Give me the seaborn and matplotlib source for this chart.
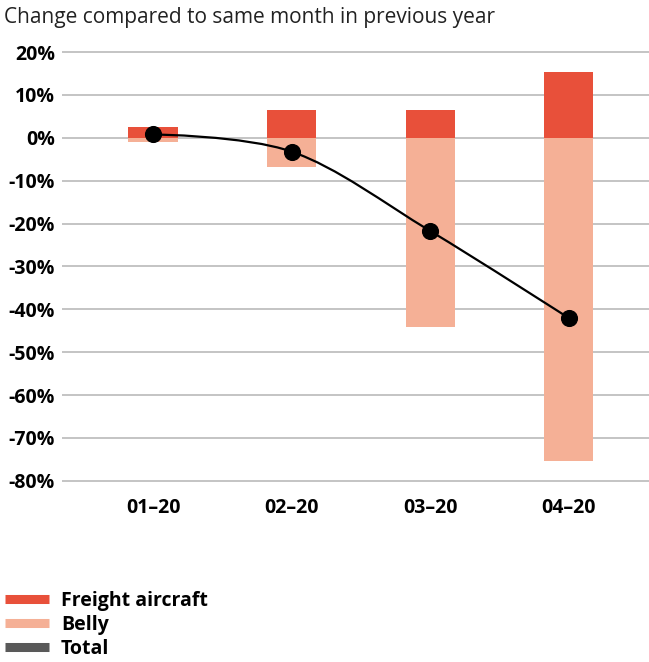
import numpy as np
import pandas as pd
import matplotlib
matplotlib.use("Agg")
import matplotlib.pyplot as plt
from matplotlib.path import Path
from matplotlib.patches import PathPatch
from matplotlib.lines import Line2D
import seaborn as sns

# --- data ---
months = ["01\u201320", "02\u201320", "03\u201320", "04\u201320"]
freight = [2.5, 6.5, 6.5, 15.3]
belly = [-1.0, -6.7, -44.0, -75.4]
total = [0.8, -3.2, -21.7, -42.0]
yticks = [20, 10, 0, -10, -20, -30, -40, -50, -60, -70, -80]

FREIGHT_C = "#E8503A"
BELLY_C = "#F5B096"
GRID_C = "#BFBFBF"

sns.set_theme(style="white")
plt.rcParams["font.family"] = ["Open Sans", "DejaVu Sans"]
plt.rcParams["text.color"] = "black"
plt.rcParams["xtick.color"] = "black"
plt.rcParams["ytick.color"] = "black"

df = pd.DataFrame({"month": months, "freight": freight, "belly": belly, "total": total})

fig = plt.figure(figsize=(6.49, 6.62), dpi=100)
ax = fig.add_axes([0.0955, 0.2704, 0.9045, 0.6541])

for y in yticks:
    ax.axhline(y, color=GRID_C, lw=1.3, zorder=0)

sns.barplot(data=df, x="month", y="freight", color=FREIGHT_C, width=0.355,
            saturation=1, linewidth=0, ax=ax, zorder=2)
sns.barplot(data=df, x="month", y="belly", color=BELLY_C, width=0.355,
            saturation=1, linewidth=0, ax=ax, zorder=2)

# smoothed line (bezier through the points, like the spreadsheet "smoothed line")
xs = np.arange(len(total), dtype=float)
pts = np.column_stack([xs, total])
verts = [tuple(pts[0])]
codes = [Path.MOVETO]
n = len(pts)
for i in range(n - 1):
    p0 = pts[i - 1] if i > 0 else pts[i]
    p1 = pts[i]
    p2 = pts[i + 1]
    p3 = pts[i + 2] if i + 2 < n else pts[i + 1]
    c1 = p1 + (p2 - p0) / 6.0 if i > 0 else p1
    c2 = p2 - (p3 - p1) / 6.0 if i + 2 < n else p2
    verts += [tuple(c1), tuple(c2), tuple(p2)]
    codes += [Path.CURVE4] * 3
ax.add_patch(PathPatch(Path(verts, codes), fill=False, edgecolor="black", lw=1.6, zorder=3))
sns.scatterplot(x=xs, y=total, color="black", s=130, edgecolor="black", zorder=4, ax=ax)

ax.set_xlim(-0.657, 3.58)
ax.set_ylim(-80.5, 20.5)
ax.set_yticks(yticks)
ax.set_yticklabels([f"{v}%" for v in yticks], fontsize=14, fontweight="bold")
ax.set_xticks(range(len(months)))
ax.set_xticklabels(months, fontsize=14, fontweight="bold")
ax.tick_params(axis="y", length=0, pad=5)
ax.tick_params(axis="x", length=0, pad=11)
ax.set_xlabel("")
ax.set_ylabel("")
for s in ax.spines.values():
    s.set_visible(False)

fig.text(0.006, 0.973, "Change compared to same month in previous year",
         fontsize=15, fontweight="normal", va="center", ha="left", color="#222222")

handles = [
    Line2D([], [], color=FREIGHT_C, lw=6.5, solid_capstyle="butt"),
    Line2D([], [], color=BELLY_C, lw=6.5, solid_capstyle="butt"),
    Line2D([], [], color="#595959", lw=6.5, solid_capstyle="butt"),
]
fig.legend(handles, ["Freight aircraft", "Belly", "Total"], loc="lower left",
           bbox_to_anchor=(0.007, 0.005), frameon=False, handlelength=2.3,
           handletextpad=0.6, labelspacing=0.2, borderaxespad=0, borderpad=0,
           prop={"size": 14, "weight": "bold"})

fig.savefig("out.png", dpi=100)
